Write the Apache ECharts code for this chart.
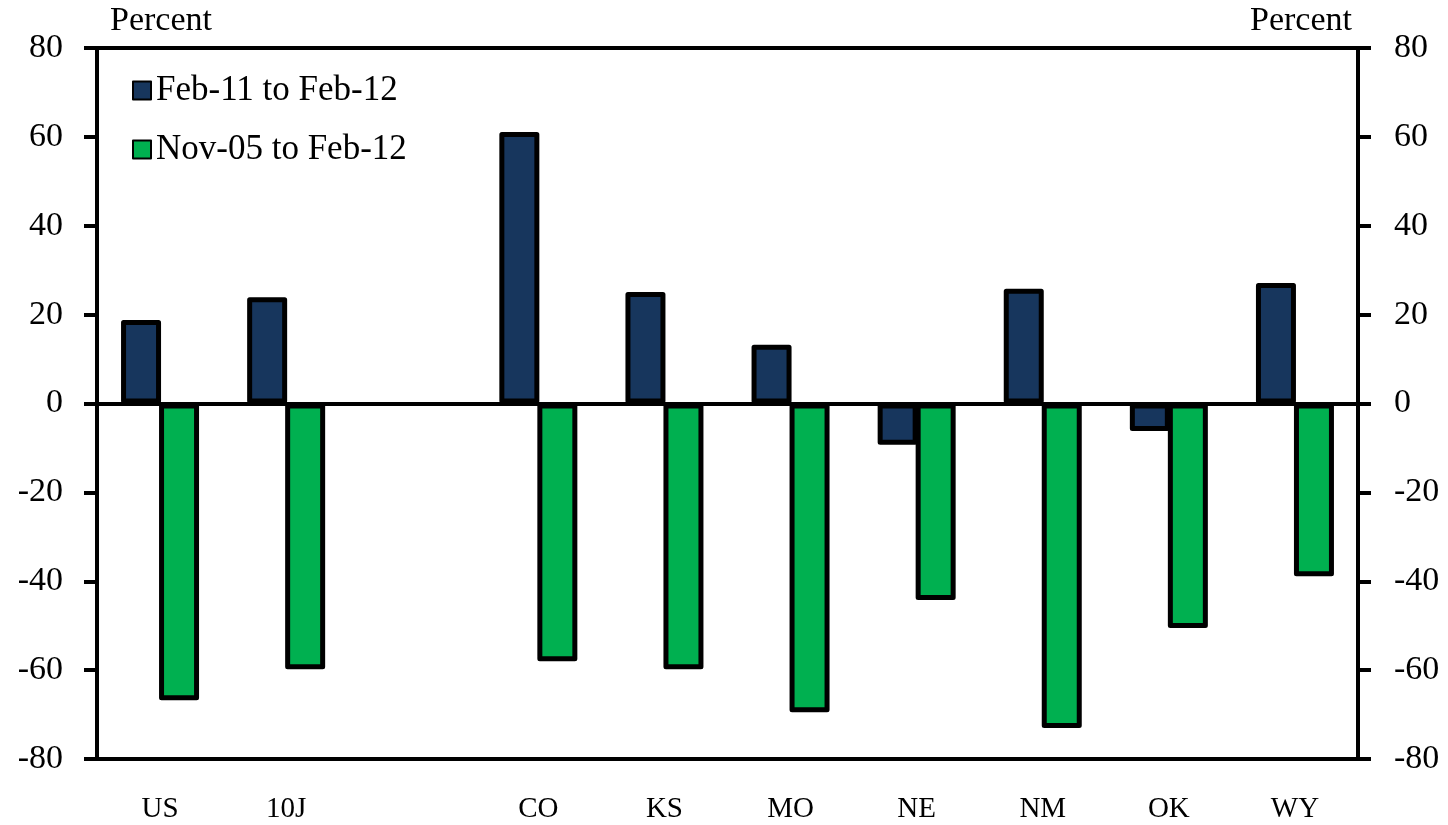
<!DOCTYPE html>
<html>
<head>
<meta charset="utf-8">
<script src="https://cdn.jsdelivr.net/npm/echarts@6/dist/echarts.min.js"></script>
<style>
  html, body { margin: 0; padding: 0; background: #fff; }
  #chart { width: 1448px; height: 825px; }
</style>
</head>
<body>
<div id="chart"></div>
<script>
/* bar chart: price change by state */
var categories = ['US', '10J', '', 'CO', 'KS', 'MO', 'NE', 'NM', 'OK', 'WY'];
var seriesNames = ['Feb-11 to Feb-12', 'Nov-05 to Feb-12'];
var oneYear = [18.8, 23.9, null, 61.1, 25.1, 13.2, -9.3, 25.8, -6.2, 27.1];
var sinceNov05 = [-66.8, -59.8, null, -58.0, -59.8, -69.5, -44.2, -73.0, -50.5, -38.9];
var yTicks = { min: -80, max: 80, interval: 20 };

var font = 'Liberation Serif';

var yAxisBase = function (pos, margin) {
  return {
    type: 'value',
    position: pos,
    min: yTicks.min,
    max: yTicks.max,
    interval: yTicks.interval,
    axisLine: { show: true, lineStyle: { color: '#000', width: 4 } },
    axisTick: { show: true, inside: false, length: 13, lineStyle: { color: '#000', width: 4 } },
    axisLabel: { fontFamily: font, fontSize: 34, color: '#000', margin: margin },
    splitLine: { show: false }
  };
};

var option = {
  animation: false,
  backgroundColor: '#fff',
  textStyle: { fontFamily: font, color: '#000' },
  grid: {
    left: 97, right: 90, top: 48, bottom: 66,
    show: true, borderColor: '#000', borderWidth: 4, backgroundColor: 'transparent'
  },
  legend: {
    orient: 'vertical',
    left: 127, top: 68,
    itemWidth: 18, itemHeight: 18, itemGap: 24,
    icon: 'rect',
    textStyle: { fontFamily: font, fontSize: 35, color: '#000' },
    data: seriesNames
  },
  graphic: [
    { type: 'text', left: 110, top: 4, style: { text: 'Percent', fontFamily: font, fontSize: 34, fill: '#000' } },
    { type: 'text', right: 96, top: 4, style: { text: 'Percent', fontFamily: font, fontSize: 34, fill: '#000' } }
  ],
  xAxis: {
    type: 'category',
    data: categories,
    position: 'bottom',
    axisLine: { show: false, onZero: false },
    axisTick: { show: false },
    axisLabel: { fontFamily: font, fontSize: 29, color: '#000', margin: 36 }
  },
  yAxis: [yAxisBase('left', 34), yAxisBase('right', 36)],
  series: [
    {
      name: seriesNames[0],
      type: 'bar',
      data: oneYear,
      barWidth: 40,
      barGap: '-5%',
      itemStyle: { color: '#17365D', borderColor: '#000', borderWidth: 5, borderJoin: 'round' },
      markLine: {
        silent: true,
        symbol: 'none',
        label: { show: false },
        lineStyle: { color: '#000', width: 4, type: 'solid' },
        data: [{ yAxis: 0 }]
      }
    },
    {
      name: seriesNames[1],
      type: 'bar',
      data: sinceNov05,
      barWidth: 40,
      barGap: '-5%',
      itemStyle: { color: '#00B050', borderColor: '#000', borderWidth: 5, borderJoin: 'round' }
    }
  ]
};

var chartEl = document.getElementById('chart');
var barChart = echarts.init(chartEl);
barChart.setOption(option);
</script>
</body>
</html>
